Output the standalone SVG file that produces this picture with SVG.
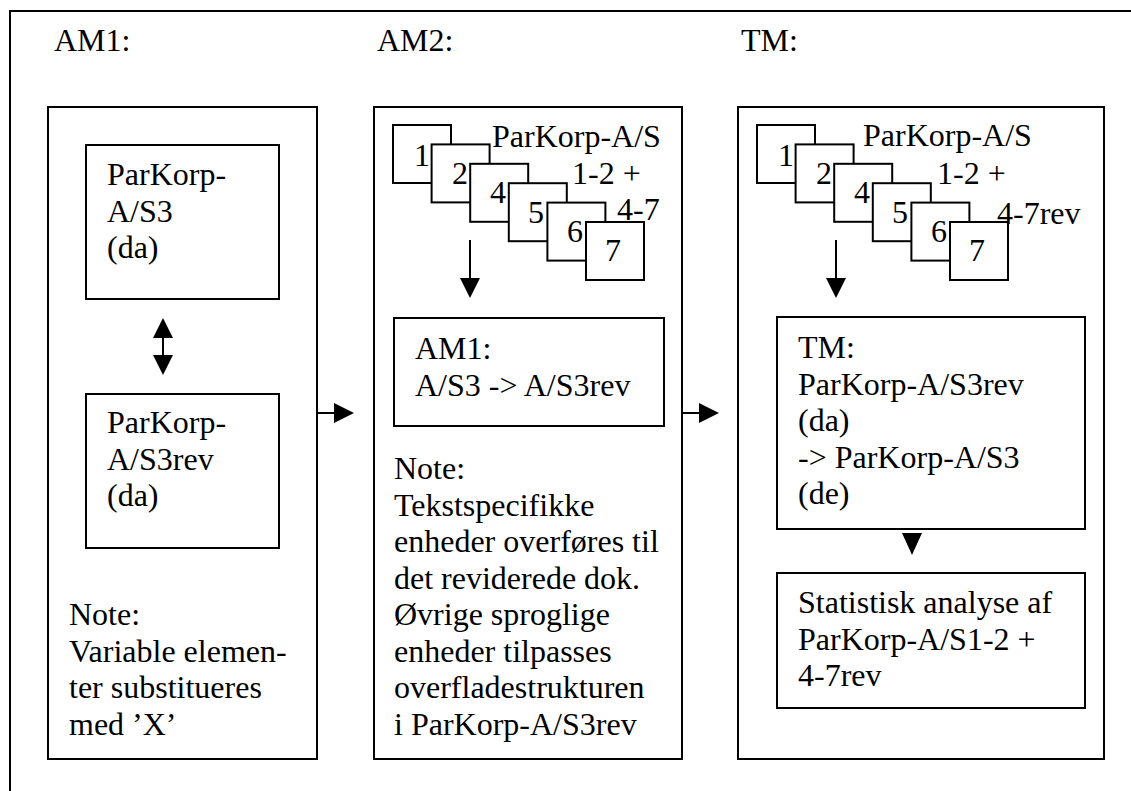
<svg xmlns="http://www.w3.org/2000/svg" width="1131" height="791" viewBox="0 0 1131 791">
<style>
.b{fill:#fff;stroke:#000;stroke-width:2}
.f{fill:none;stroke:#000;stroke-width:2}
.t{font-family:"Liberation Serif","Times New Roman",serif;font-size:32px;fill:#000}
.l{stroke:#000;stroke-width:2;fill:none}
.h{fill:#000;stroke:none}
</style>
<rect width="1131" height="791" fill="#fff"/>
<path class="f" d="M10,791 V11 H1131"/>
<g id="labels">
<text class="t" x="54" y="51">AM1:</text>
<text class="t" x="377" y="51">AM2:</text>
<text class="t" x="741" y="51">TM:</text>
</g>
<g id="col-am1">
<rect class="b" x="48" y="107" width="269" height="652"/>
<g id="am1-box1">
<rect class="b" x="86" y="145" width="193" height="154"/>
<text class="t" x="107" y="185">ParKorp-</text>
<text class="t" x="107" y="221.5">A/S3</text>
<text class="t" x="107" y="258">(da)</text>
</g>
<g id="am1-box2">
<rect class="b" x="86" y="394" width="193" height="154"/>
<text class="t" x="107" y="433">ParKorp-</text>
<text class="t" x="107" y="469.5">A/S3rev</text>
<text class="t" x="107" y="506">(da)</text>
</g>
<g id="am1-note">
<text class="t" x="69" y="625">Note:</text>
<text class="t" x="69" y="661.5">Variable elemen-</text>
<text class="t" x="69" y="698">ter substitueres</text>
<text class="t" x="69" y="734.5">med ’X’</text>
</g>
</g>
<g id="col-am2">
<rect class="b" x="374" y="107" width="308" height="652"/>
<g id="am2-stack">
<rect class="b" x="393" y="125" width="58" height="58"/>
<text class="t" x="414" y="166">1</text>
<rect class="b" x="431.6" y="144.4" width="58" height="58"/>
<text class="t" x="452" y="184">2</text>
<rect class="b" x="470.2" y="163.8" width="58" height="58"/>
<text class="t" x="490" y="203">4</text>
<rect class="b" x="508.8" y="183.2" width="58" height="58"/>
<text class="t" x="528" y="223">5</text>
<rect class="b" x="547.4" y="202.6" width="58" height="58"/>
<text class="t" x="567" y="242">6</text>
<rect class="b" x="586" y="222" width="58" height="58"/>
<text class="t" x="605" y="261">7</text>
<text class="t" x="492" y="147">ParKorp-A/S</text>
<text class="t" x="572" y="184">1-2 +</text>
<text class="t" x="617" y="220">4-7</text>
</g>
<g id="am2-box">
<rect class="b" x="394" y="318" width="270" height="108"/>
<text class="t" x="415" y="359">AM1:</text>
<text class="t" x="415" y="395.5">A/S3 -&gt; A/S3rev</text>
</g>
<g id="am2-note">
<text class="t" x="394" y="479">Note:</text>
<text class="t" x="394" y="515.5">Tekstspecifikke</text>
<text class="t" x="394" y="552">enheder overføres til</text>
<text class="t" x="394" y="588.5">det reviderede dok.</text>
<text class="t" x="394" y="625">Øvrige sproglige</text>
<text class="t" x="394" y="661.5">enheder tilpasses</text>
<text class="t" x="394" y="698">overfladestrukturen</text>
<text class="t" x="394" y="734.5">i ParKorp-A/S3rev</text>
</g>
</g>
<g id="col-tm">
<rect class="b" x="738" y="107" width="366" height="652"/>
<g id="tm-stack">
<rect class="b" x="757" y="125" width="58" height="58"/>
<text class="t" x="778" y="166">1</text>
<rect class="b" x="795.6" y="144.4" width="58" height="58"/>
<text class="t" x="816" y="184">2</text>
<rect class="b" x="834.2" y="163.8" width="58" height="58"/>
<text class="t" x="854" y="203">4</text>
<rect class="b" x="872.8" y="183.2" width="58" height="58"/>
<text class="t" x="892" y="223">5</text>
<rect class="b" x="911.4" y="202.6" width="58" height="58"/>
<text class="t" x="931" y="242">6</text>
<rect class="b" x="950" y="222" width="58" height="58"/>
<text class="t" x="969" y="261">7</text>
<text class="t" x="863" y="146">ParKorp-A/S</text>
<text class="t" x="937" y="184">1-2 +</text>
<text class="t" x="997" y="224">4-7rev</text>
</g>
<g id="tm-box">
<rect class="b" x="777" y="317" width="308" height="212"/>
<text class="t" x="798" y="358">TM:</text>
<text class="t" x="798" y="394.5">ParKorp-A/S3rev</text>
<text class="t" x="798" y="431">(da)</text>
<text class="t" x="798" y="467.5">-&gt; ParKorp-A/S3</text>
<text class="t" x="798" y="504">(de)</text>
</g>
<g id="tm-stat">
<rect class="b" x="777" y="573" width="308" height="135"/>
<text class="t" x="798" y="613">Statistisk analyse af</text>
<text class="t" x="798" y="649.5">ParKorp-A/S1-2 +</text>
<text class="t" x="798" y="686">4-7rev</text>
</g>
</g>
<g id="connectors">
<line class="l" x1="163" y1="336" x2="163" y2="357"/>
<polygon class="h" points="163,318 153,338 173,338"/>
<polygon class="h" points="163,375 153,355 173,355"/>
<line class="l" x1="317" y1="413" x2="336" y2="413"/>
<polygon class="h" points="354,413 334,403 334,423"/>
<line class="l" x1="683" y1="413" x2="701" y2="413"/>
<polygon class="h" points="719,413 699,403 699,423"/>
<line class="l" x1="470" y1="240" x2="470" y2="280"/>
<polygon class="h" points="470,298 460,278 480,278"/>
<line class="l" x1="836" y1="240" x2="836" y2="280"/>
<polygon class="h" points="836,298 826,278 846,278"/>
<polygon class="h" points="912,555 902,533 922,533"/>
</g>
</svg>
